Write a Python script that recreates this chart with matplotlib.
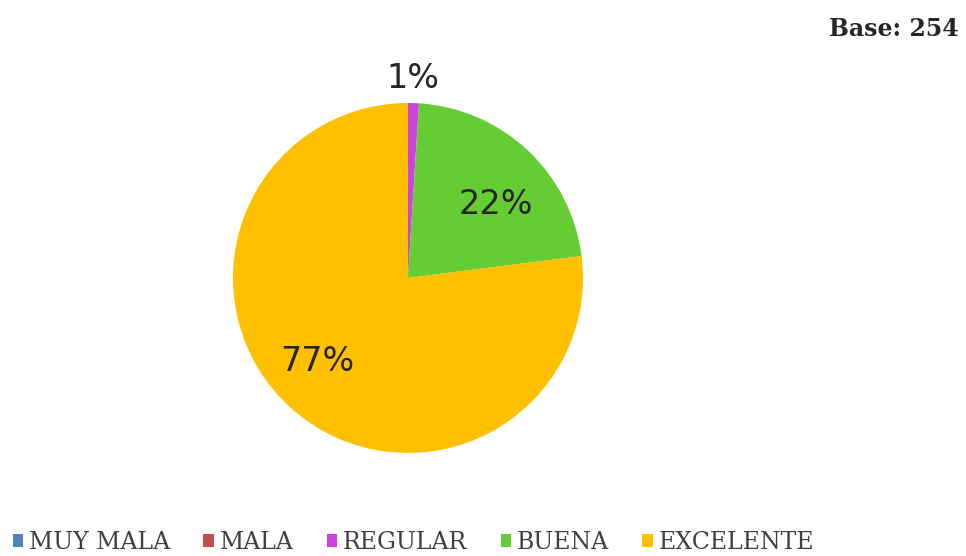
import matplotlib
matplotlib.use("Agg")
import matplotlib.pyplot as plt
import numpy as np
from matplotlib.patches import Patch

categories = ["MUY MALA", "MALA", "REGULAR", "BUENA", "EXCELENTE"]
values = [0, 0, 1, 22, 77]
colors = ["#4F81BD", "#C0504D", "#CC44DD", "#66CC33", "#FFC000"]

fig = plt.figure(figsize=(9.66, 5.56), dpi=100)
ax = fig.add_axes([0.2412, 0.1853, 0.3623, 0.6295])
wedges, _ = ax.pie(values, colors=colors, startangle=90, counterclock=False,
                   radius=1.0, wedgeprops=dict(linewidth=0))
ax.set_xlim(-1, 1)
ax.set_ylim(-1, 1)
ax.set_aspect("equal")

# label placement (axes data units)
label_pos = {2: (0.03, 1.14), 3: (0.50, 0.42), 4: (-0.52, -0.48)}
for i, (x, y) in label_pos.items():
    ax.text(x, y, f"{values[i]}%", ha="center", va="center", fontsize=24,
            family="DejaVu Sans", color="#262626", clip_on=False)

fig.text(0.992, 0.948, "Base: 254", ha="right", va="center", fontsize=17,
         fontweight="bold", family="DejaVu Serif", color="#262626")

handles = [Patch(facecolor=c, edgecolor="none") for c in colors]
fig.legend(handles, categories, loc="center", bbox_to_anchor=(0.428, 0.024),
           ncol=5, frameon=False,
           prop=dict(family="DejaVu Serif", size=17),
           labelcolor="#404040",
           handlelength=0.45, handleheight=0.45, handletextpad=0.25, columnspacing=1.4)
fig.savefig("out.png", dpi=100)
